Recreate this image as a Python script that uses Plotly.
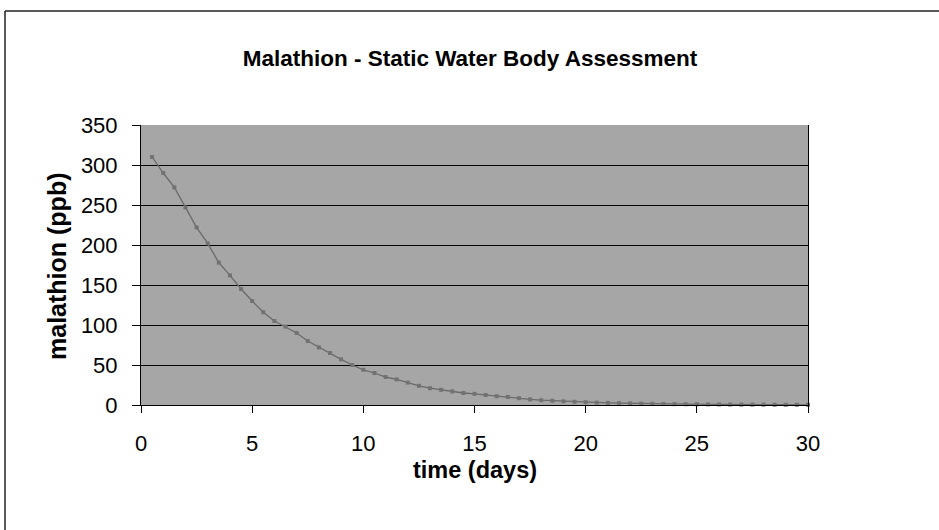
import plotly.graph_objects as go

# time (days)
time_days = [0.5, 1.0, 1.5, 2.0, 2.5, 3.0, 3.5, 4.0, 4.5, 5.0,
             5.5, 6.0, 6.5, 7.0, 7.5, 8.0, 8.5, 9.0, 9.5, 10.0,
             10.5, 11.0, 11.5, 12.0, 12.5, 13.0, 13.5, 14.0, 14.5, 15.0,
             15.5, 16.0, 16.5, 17.0, 17.5, 18.0, 18.5, 19.0, 19.5, 20.0,
             20.5, 21.0, 21.5, 22.0, 22.5, 23.0, 23.5, 24.0, 24.5, 25.0,
             25.5, 26.0, 26.5, 27.0, 27.5, 28.0, 28.5, 29.0, 29.5, 30.0]
# malathion (ppb)
malathion_ppb = [310, 290, 272, 247, 222, 202, 178, 162, 145, 130,
                 116, 105, 98, 90, 80, 72, 65, 57, 50, 44,
                 40, 35, 32, 28, 24, 21, 19, 17, 15, 14,
                 12.5, 11, 10, 8.5, 7, 6, 5.3, 4.6, 4, 3.5,
                 3, 2.7, 2.3, 2, 1.7, 1.5, 1.3, 1.1, 1.0, 0.9,
                 0.8, 0.7, 0.6, 0.5, 0.45, 0.4, 0.35, 0.3, 0.27, 0.24]

x_ticks = [0, 5, 10, 15, 20, 25, 30]
y_ticks = [0, 50, 100, 150, 200, 250, 300, 350]

FONT = "Liberation Sans, Arial, sans-serif"

fig = go.Figure()
fig.add_trace(go.Scatter(
    x=time_days, y=malathion_ppb, mode="lines+markers",
    line=dict(color="#6a6a6a", width=1.3),
    marker=dict(symbol="square", size=4, color="#727272"),
    cliponaxis=False, showlegend=False,
))

W, H = 939, 530
L, R, T, B = 141, 131, 125, 125
pw, ph = W - L - R, H - T - B

fig.update_layout(
    width=W, height=H,
    margin=dict(l=L, r=R, t=T, b=B),
    paper_bgcolor="white",
    plot_bgcolor="#a6a6a6",
    font=dict(family=FONT, size=22, color="black"),
    title=dict(text="<b>Malathion - Static Water Body Assessment</b>",
               x=470 / W, xanchor="center", y=1 - 58 / H, yanchor="middle",
               yref="container", font=dict(size=22.5, family=FONT)),
    xaxis=dict(range=[0, 30], tickvals=x_ticks, showgrid=False, zeroline=False,
               showline=True, linecolor="black", linewidth=1,
               ticks="outside", ticklen=7, tickcolor="black",
               ticklabelstandoff=12, tickfont=dict(size=22)),
    yaxis=dict(range=[0, 350], tickvals=y_ticks, showgrid=True,
               gridcolor="black", gridwidth=1, zeroline=False,
               showline=True, linecolor="black", linewidth=1, mirror=True,
               ticks="outside", ticklen=8, tickcolor="black",
               ticklabelstandoff=10, tickfont=dict(size=22)),
    annotations=[
        dict(text="<b>malathion (ppb)</b>", x=0, y=0.5, xref="paper", yref="paper",
             xanchor="center", yanchor="middle", xshift=57 - L, yshift=-2,
             textangle=-90, showarrow=False, font=dict(size=25, family=FONT)),
        dict(text="<b>time (days)</b>", x=0.5, y=0, xref="paper", yref="paper",
             xanchor="center", yanchor="middle", yshift=-(470 - (H - B)),
             showarrow=False, font=dict(size=23.5, family=FONT)),
    ],
    shapes=[
        dict(type="line", xref="paper", yref="paper",
             x0=(5 - L) / pw, x1=(W + 2 - L) / pw,
             y0=(H - B - 11) / ph, y1=(H - B - 11) / ph,
             line=dict(color="#222", width=1.5)),
        dict(type="line", xref="paper", yref="paper",
             x0=(5 - L) / pw, x1=(5 - L) / pw,
             y0=(H - B - 11) / ph, y1=(H - B - H - 2) / ph,
             line=dict(color="#222", width=1.5)),
    ],
)

fig.write_html("out.html",
               config={"displayModeBar": False},
               post_script="document.body.style.margin='0px';document.body.style.padding='0px';")
